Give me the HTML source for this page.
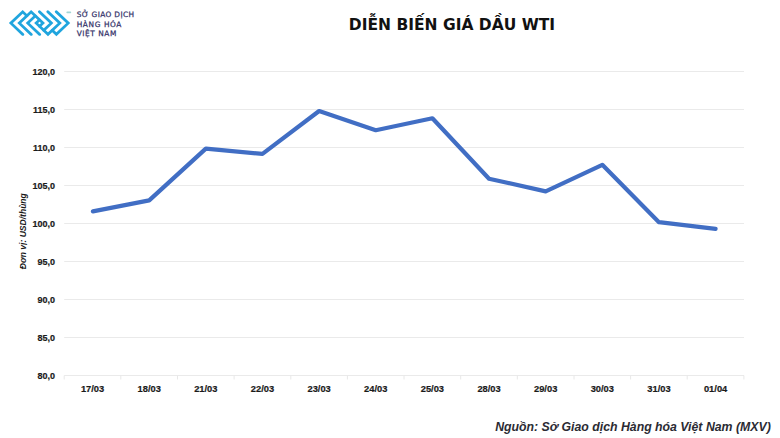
<!DOCTYPE html>
<html>
<head>
<meta charset="utf-8">
<style>
html,body{margin:0;padding:0;background:#fff;}
body{width:780px;height:438px;overflow:hidden;position:relative;}
svg{position:absolute;left:0;top:0;}
svg{font-family:"Liberation Sans",Arial,sans-serif;}
</style>
</head>
<body>
<svg width="780" height="438" viewBox="0 0 780 438">
  <!-- logo icon -->
  <g id="logo" transform="translate(39.55,23.1) scale(1.015,0.96) translate(-39.55,-23.1)" fill="none" stroke="#20a5de" stroke-width="2.8" stroke-linecap="round" stroke-linejoin="miter">
    <polyline points="23.1,34.9 11.3,23.1 22.95,11.45 27.1,15.6"/>
    <polyline points="31.4,34.9 19.6,23.1 31.25,11.45 42.9,23.1 39.55,26.45"/>
    <polyline points="39.7,34.9 27.9,23.1 35.4,15.6"/>
    <polyline points="56,11.3 67.8,23.1 56.15,34.75 52,30.6"/>
    <polyline points="47.7,11.3 59.5,23.1 47.85,34.75 36.2,23.1 39.55,19.75"/>
    <polyline points="39.4,11.3 51.2,23.1 43.7,30.6"/>
  </g>
  <rect x="66.4" y="11.5" width="4.8" height="1.7" rx="0.8" fill="#a4d6d6"/>
  <g fill="#35346a" font-size="7.4" style="font-family:'DejaVu Sans',sans-serif" stroke="#35346a" stroke-width="0.25" lengthAdjust="spacing">
    <text x="76.7" y="17.3" textLength="57.3">SỞ GIAO DỊCH</text>
    <text x="76.7" y="26.9" textLength="44.7">HÀNG HÓA</text>
    <text x="76.7" y="35.5" textLength="39.6">VIỆT NAM</text>
  </g>

  <!-- title -->
  <text x="452" y="29.9" text-anchor="middle" font-size="15.5" font-weight="bold" fill="#111" style="font-family:'DejaVu Sans',sans-serif">DIỄN BIẾN GIÁ DẦU WTI</text>

  <!-- gridlines -->
  <g stroke="#eaeaea" stroke-width="1">
    <line x1="64.2" y1="71.5" x2="744" y2="71.5"/>
    <line x1="64.2" y1="109.5" x2="744" y2="109.5"/>
    <line x1="64.2" y1="147.5" x2="744" y2="147.5"/>
    <line x1="64.2" y1="185.5" x2="744" y2="185.5"/>
    <line x1="64.2" y1="223.5" x2="744" y2="223.5"/>
    <line x1="64.2" y1="261.5" x2="744" y2="261.5"/>
    <line x1="64.2" y1="299.5" x2="744" y2="299.5"/>
    <line x1="64.2" y1="337.5" x2="744" y2="337.5"/>
    <line x1="64.2" y1="375.5" x2="744" y2="375.5"/>
  </g>

  <g stroke="#e8e8e8" stroke-width="1"><line x1="64.2" y1="375.5" x2="64.2" y2="379.5"/><line x1="120.8" y1="375.5" x2="120.8" y2="379.5"/><line x1="177.5" y1="375.5" x2="177.5" y2="379.5"/><line x1="234.1" y1="375.5" x2="234.1" y2="379.5"/><line x1="290.8" y1="375.5" x2="290.8" y2="379.5"/><line x1="347.4" y1="375.5" x2="347.4" y2="379.5"/><line x1="404.0" y1="375.5" x2="404.0" y2="379.5"/><line x1="460.7" y1="375.5" x2="460.7" y2="379.5"/><line x1="517.3" y1="375.5" x2="517.3" y2="379.5"/><line x1="574.0" y1="375.5" x2="574.0" y2="379.5"/><line x1="630.6" y1="375.5" x2="630.6" y2="379.5"/><line x1="687.2" y1="375.5" x2="687.2" y2="379.5"/><line x1="743.9" y1="375.5" x2="743.9" y2="379.5"/></g>

  <!-- y labels -->
  <g font-size="9" font-weight="bold" fill="#1a1a1a" stroke="#1a1a1a" stroke-width="0.2" text-anchor="end">
    <text x="55" y="75.25">120,0</text>
    <text x="55" y="113.25">115,0</text>
    <text x="55" y="151.25">110,0</text>
    <text x="55" y="189.25">105,0</text>
    <text x="55" y="227.25">100,0</text>
    <text x="55" y="265.25">95,0</text>
    <text x="55" y="303.25">90,0</text>
    <text x="55" y="341.25">85,0</text>
    <text x="55" y="379.25">80,0</text>
  </g>

  <!-- y axis title -->
  <text transform="translate(26.1,231.2) rotate(-90)" text-anchor="middle" font-size="9.5" font-weight="bold" font-style="italic" fill="#1a1a1a" textLength="76" lengthAdjust="spacingAndGlyphs">Đơn vị: USD/thùng</text>

  <!-- x labels -->
  <g font-size="9.3" font-weight="bold" fill="#1a1a1a" stroke="#1a1a1a" stroke-width="0.2" text-anchor="middle">
    <text x="92.55" y="391.5">17/03</text>
    <text x="149.19" y="391.5">18/03</text>
    <text x="205.83" y="391.5">21/03</text>
    <text x="262.47" y="391.5">22/03</text>
    <text x="319.11" y="391.5">23/03</text>
    <text x="375.75" y="391.5">24/03</text>
    <text x="432.39" y="391.5">25/03</text>
    <text x="489.03" y="391.5">28/03</text>
    <text x="545.67" y="391.5">29/03</text>
    <text x="602.31" y="391.5">30/03</text>
    <text x="658.95" y="391.5">31/03</text>
    <text x="715.59" y="391.5">01/04</text>
  </g>

  <!-- data line -->
  <polyline fill="none" stroke="#416ec4" stroke-width="4.2" stroke-linejoin="round" stroke-linecap="round"
    points="92.90,211.4 149.19,200.4 205.83,148.6 262.47,153.9 319.11,111.0 375.75,130.2 432.39,118.3 489.03,178.7 545.67,191.4 602.31,164.8 658.95,222.2 715.59,228.8"/>

  <!-- source -->
  <text x="770.8" y="430.8" text-anchor="end" font-size="12.3" font-weight="bold" font-style="italic" fill="#2b2b33">Nguồn: Sở Giao dịch Hàng hóa Việt Nam (MXV)</text>
</svg>
</body>
</html>
